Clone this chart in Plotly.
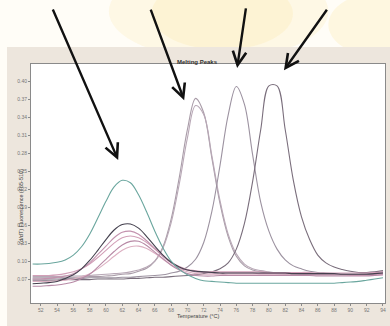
import plotly.graph_objects as go

# ---- data ----
temperature = list(range(51, 95))

teal_curve = [0.095,0.095,0.096,0.098,0.102,0.110,0.124,0.145,0.172,0.200,
              0.224,0.235,0.231,0.211,0.182,0.150,0.122,0.100,0.086,0.077,
              0.071,0.067,0.066,0.065,0.064,0.063,0.063,0.063,0.063,0.063,
              0.063,0.063,0.063,0.063,0.063,0.063,0.063,0.063,0.064,0.065,
              0.066,0.068,0.070,0.072]
dark_low = [0.062,0.063,0.064,0.066,0.071,0.077,0.087,0.101,0.118,0.136,
            0.152,0.161,0.162,0.155,0.141,0.125,0.110,0.098,0.090,0.085,
            0.083,0.082,0.081,0.080,0.080,0.080,0.080,0.080,0.080,0.080,
            0.080,0.080,0.079,0.079,0.079,0.079,0.079,0.079,0.078,0.078,
            0.078,0.078,0.079,0.080]
pink_1 = [0.070,0.070,0.071,0.073,0.075,0.079,0.087,0.097,0.111,0.125,
          0.139,0.148,0.150,0.145,0.134,0.121,0.108,0.097,0.089,0.085,
          0.082,0.081,0.080,0.080,0.080,0.080,0.080,0.080,0.079,0.079,
          0.079,0.079,0.079,0.078,0.078,0.078,0.078,0.078,0.078,0.077,
          0.077,0.077,0.078,0.079]
pink_2 = [0.076,0.076,0.076,0.077,0.079,0.082,0.087,0.095,0.106,0.118,
          0.130,0.139,0.142,0.139,0.131,0.120,0.108,0.098,0.091,0.086,
          0.084,0.082,0.082,0.082,0.082,0.082,0.082,0.082,0.082,0.081,
          0.081,0.081,0.081,0.081,0.081,0.080,0.080,0.080,0.080,0.080,
          0.080,0.080,0.081,0.082]
pink_3 = [0.058,0.058,0.059,0.060,0.062,0.065,0.071,0.078,0.090,0.103,
          0.116,0.127,0.133,0.133,0.126,0.115,0.104,0.093,0.085,0.079,
          0.076,0.075,0.075,0.076,0.076,0.076,0.076,0.076,0.076,0.076,
          0.076,0.076,0.076,0.076,0.076,0.075,0.075,0.075,0.075,0.075,
          0.075,0.075,0.076,0.077]
pink_4 = [0.066,0.066,0.066,0.067,0.068,0.070,0.074,0.079,0.087,0.097,
          0.108,0.118,0.124,0.125,0.121,0.113,0.103,0.094,0.087,0.082,
          0.079,0.078,0.078,0.078,0.078,0.078,0.078,0.078,0.078,0.078,
          0.078,0.078,0.077,0.077,0.077,0.077,0.077,0.077,0.077,0.076,
          0.076,0.076,0.077,0.078]
peak71_a = [0.072,0.072,0.072,0.072,0.073,0.073,0.073,0.074,0.074,0.075,
            0.076,0.078,0.079,0.083,0.088,0.100,0.124,0.170,0.240,0.320,
            0.372,0.348,0.272,0.196,0.141,0.108,0.092,0.085,0.082,0.080,
            0.079,0.078,0.077,0.077,0.077,0.077,0.077,0.077,0.077,0.077,
            0.077,0.078,0.079,0.080]
peak71_b = [0.074,0.074,0.074,0.074,0.075,0.075,0.075,0.076,0.077,0.078,
            0.079,0.080,0.082,0.085,0.090,0.100,0.122,0.164,0.229,0.306,
            0.360,0.345,0.276,0.201,0.145,0.112,0.095,0.087,0.084,0.082,
            0.080,0.079,0.078,0.078,0.078,0.078,0.078,0.078,0.078,0.078,
            0.078,0.079,0.080,0.081]
peak76 = [0.070,0.070,0.070,0.070,0.071,0.071,0.071,0.072,0.072,0.072,
          0.072,0.073,0.073,0.074,0.075,0.076,0.077,0.080,0.083,0.090,
          0.103,0.131,0.183,0.260,0.344,0.392,0.362,0.278,0.198,0.150,
          0.120,0.102,0.092,0.087,0.083,0.081,0.080,0.079,0.078,0.078,
          0.078,0.079,0.080,0.082]
peak80 = [0.068,0.068,0.068,0.068,0.069,0.069,0.069,0.069,0.070,0.070,
          0.070,0.070,0.071,0.071,0.072,0.073,0.073,0.074,0.075,0.076,
          0.077,0.079,0.082,0.087,0.097,0.120,0.163,0.233,0.320,0.393,
          0.393,0.320,0.235,0.174,0.136,0.110,0.097,0.090,0.086,0.083,
          0.081,0.081,0.082,0.084]

x_ticks = list(range(52, 95, 2))
y_ticks = [0.07, 0.10, 0.13, 0.16, 0.19, 0.22, 0.25, 0.28, 0.31, 0.34, 0.37, 0.40]

# arrow tips (data coords) and tail offsets (pixels)
arrow_tip_t = [61.5, 69.6, 76.1, 81.85]
arrow_tip_v = [0.269, 0.369, 0.423, 0.419]
arrow_dx = [-66, -34, 9, 44]
arrow_dy = [-152, -92, -61, -62]

series = [
    (peak71_a, "#a99ca8"),
    (peak71_b, "#b8a8b6"),
    (peak76, "#9c92a0"),
    (peak80, "#7a6e7c"),
    (pink_4, "#dcb0c2"),
    (pink_3, "#b88aa6"),
    (pink_2, "#d2a0b8"),
    (pink_1, "#c392ae"),
    (dark_low, "#44404e"),
    (teal_curve, "#6aa69e"),
]

fig = go.Figure()
for ys, col in series:
    fig.add_trace(go.Scatter(x=temperature, y=ys, mode="lines",
                             line=dict(color=col, width=1.1, shape="spline"),
                             showlegend=False, hoverinfo="skip"))

FONT = "Liberation Sans, Arial, sans-serif"

shapes = [
    dict(type="circle", xref="paper", yref="paper", x0=0.22, x1=0.84, y0=1.02, y1=1.42,
         fillcolor="#fcefc4", opacity=0.35, line=dict(width=0), layer="below"),
    dict(type="circle", xref="paper", yref="paper", x0=0.34, x1=0.74, y0=1.06, y1=1.36,
         fillcolor="#fbebb4", opacity=0.35, line=dict(width=0), layer="below"),
    dict(type="circle", xref="paper", yref="paper", x0=0.84, x1=1.14, y0=1.03, y1=1.30,
         fillcolor="#fcefc4", opacity=0.45, line=dict(width=0), layer="below"),
    dict(type="rect", xref="paper", yref="paper", x0=-0.0678, x1=1.1, y0=-0.2, y1=1.0711,
         fillcolor="#ede6dd", line=dict(width=0), layer="below"),
    dict(type="rect", xref="paper", yref="paper", x0=0, x1=1, y0=0, y1=1,
         fillcolor="#ffffff", line=dict(width=0), layer="below"),
]

annotations = [
    dict(text="<b>Melting Peaks</b>", xref="paper", yref="paper", x=0.469, y=1.03,
         showarrow=False, font=dict(family=FONT, size=6, color="#333333")),
    dict(text="Temperature (°C)", xref="paper", yref="paper", x=0.472, y=-0.074,
         showarrow=False, font=dict(family=FONT, size=5.5, color="#444444")),
    dict(text="-(d/dT) Fluorescence (465-510)", xref="paper", yref="paper", x=-0.042, y=0.40,
         textangle=-90, showarrow=False, font=dict(family=FONT, size=5.5, color="#444444")),
]
for t, v, dx, dy in zip(arrow_tip_t, arrow_tip_v, arrow_dx, arrow_dy):
    annotations.append(dict(x=t, y=v, xref="x", yref="y", ax=dx, ay=dy, text="",
                            showarrow=True, arrowhead=5, arrowsize=1.1, arrowwidth=2.4,
                            arrowcolor="#111111", standoff=0))

fig.update_layout(
    width=390, height=326,
    margin=dict(l=31, r=5, t=64, b=23, autoexpand=False),
    paper_bgcolor="#fffdf7", plot_bgcolor="#ffffff",
    shapes=shapes, annotations=annotations,
    xaxis=dict(range=[50.8, 94.25], tickvals=x_ticks, ticktext=[str(v) for v in x_ticks],
               showgrid=False, zeroline=False, showline=True, mirror=True,
               linecolor="#8a8a8a", linewidth=1, ticks="outside", ticklen=2,
               tickcolor="#8a8a8a", tickfont=dict(family=FONT, size=5, color="#777777"),
               automargin=False),
    yaxis=dict(range=[0.0299, 0.4295], tickvals=y_ticks, tickformat=".2f",
               showgrid=False, zeroline=False, showline=True, mirror=True,
               linecolor="#8a8a8a", linewidth=1, ticks="outside", ticklen=2,
               tickcolor="#8a8a8a", tickfont=dict(family=FONT, size=5, color="#777777"),
               automargin=False),
)

fig.write_html(
    "out.html",
    config={"displayModeBar": False},
    post_script="document.body.style.margin='0';document.body.style.overflow='hidden';",
)
